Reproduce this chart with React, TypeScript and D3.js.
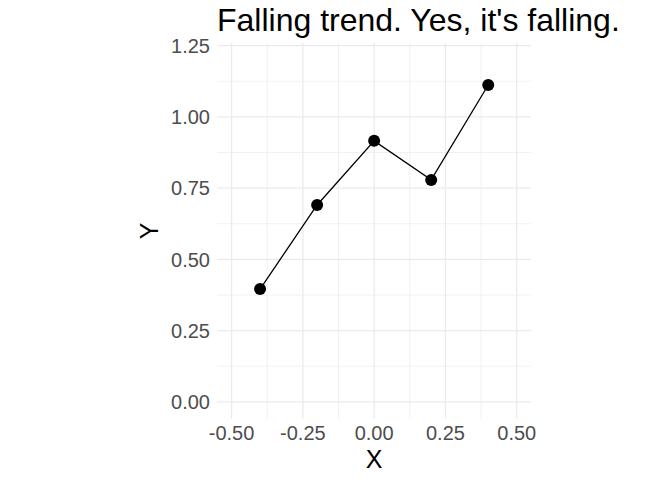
import React from "react";
import * as d3 from "d3";

const xValues = [-0.4, -0.2, 0.0, 0.2, 0.4];
const yValues = [0.396, 0.691, 0.916, 0.779, 1.112];
const xTicks = [-0.5, -0.25, 0, 0.25, 0.5];
const yTicks = [0, 0.25, 0.5, 0.75, 1.0, 1.25];
const xMinor = [-0.375, -0.125, 0.125, 0.375];
const yMinor = [0.125, 0.375, 0.625, 0.875, 1.125];
const title = "Falling trend. Yes, it's falling.";

export default function App() {
  const W = 672, H = 480;
  const x = d3.scaleLinear().domain([-0.55, 0.55]).range([217.3, 531]);
  const y = d3.scaleLinear().domain([-0.06, 1.26]).range([419, 42.8]);
  const fmt = (t: number) => d3.format(".2f")(t).replace("\u2212", "-");
  const line = d3.line<number>().x((_, i) => x(xValues[i])).y((d) => y(d));
  const font = "Liberation Sans, Arial, sans-serif";
  const [x0, x1] = x.range();
  const [y0, y1] = y.range();
  return (
    <svg width={W} height={H} style={{ position: "absolute", left: 0, top: 0, background: "#fff" }} fontFamily={font}>
      {xMinor.map((t) => (
        <line key={"xm" + t} x1={x(t)} x2={x(t)} y1={y0} y2={y1} stroke="#ebebeb" strokeWidth={0.7} />
      ))}
      {yMinor.map((t) => (
        <line key={"ym" + t} x1={x0} x2={x1} y1={y(t)} y2={y(t)} stroke="#ebebeb" strokeWidth={0.7} />
      ))}
      {xTicks.map((t) => (
        <line key={"xM" + t} x1={x(t)} x2={x(t)} y1={y0} y2={y1} stroke="#ebebeb" strokeWidth={1.3} />
      ))}
      {yTicks.map((t) => (
        <line key={"yM" + t} x1={x0} x2={x1} y1={y(t)} y2={y(t)} stroke="#ebebeb" strokeWidth={1.3} />
      ))}
      <path d={line(yValues) || ""} fill="none" stroke="#000" strokeWidth={1.3} />
      {yValues.map((v, i) => (
        <circle key={i} cx={x(xValues[i])} cy={y(v)} r={6} fill="#000" />
      ))}
      {yTicks.map((t) => (
        <text key={"yl" + t} x={210} y={y(t)} dy="0.36em" textAnchor="end" fontSize={20} fill="#4d4d4d">
          {fmt(t)}
        </text>
      ))}
      {xTicks.map((t) => (
        <text key={"xl" + t} x={x(t)} y={440} textAnchor="middle" fontSize={20} fill="#4d4d4d">
          {fmt(t)}
        </text>
      ))}
      <text x={(x0 + x1) / 2} y={468} textAnchor="middle" fontSize={25} fill="#000">X</text>
      <text transform={`translate(158,${(y0 + y1) / 2}) rotate(-90)`} textAnchor="middle" fontSize={25} fill="#000">Y</text>
      <text x={217} y={31} fontSize={32} fill="#000">{title}</text>
    </svg>
  );
}
